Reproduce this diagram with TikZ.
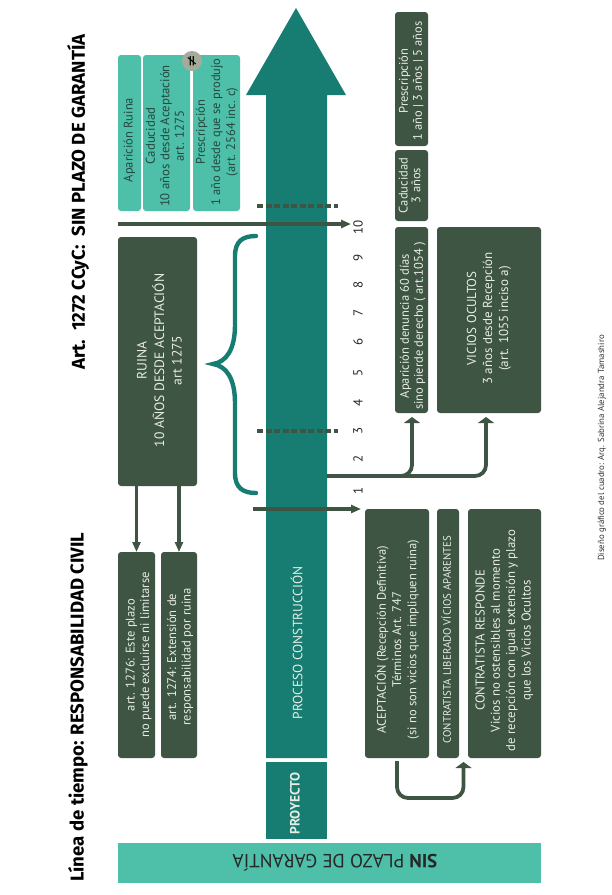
\documentclass[tikz,border=0pt]{standalone}
\usepackage{fontspec}
\setmainfont{PT Sans}
\newfontfamily\titlef{Fira Sans}
\newfontfamily\symf{DejaVu Sans}
\usetikzlibrary{arrows.meta,calc}
\definecolor{darkgr}{HTML}{3F5543}
\definecolor{tealdk}{HTML}{177C71}
\definecolor{teallt}{HTML}{4EBFA9}
\definecolor{paletxt}{HTML}{E6EDE4}
\definecolor{teallttxt}{HTML}{24483F}
\definecolor{neqgray}{HTML}{A5AB9B}
\newcommand{\rbox}[7]{%
  \pgfmathsetmacro\bx{(#2+#4)/2}%
  \pgfmathsetmacro\by{(#3+#5)/2}%
  \pgfmathsetmacro\bw{abs(#5-#3)}%
  \pgfmathsetmacro\bh{abs(#4-#2)}%
  \node[#6, minimum width=\bw pt, minimum height=\bh pt] (#1) at (\bx,\by) {#7};}
% tshift{up on page}{right on page}{lines}: moves the text block inside its turned box
\newcommand{\tshift}[3]{\hspace*{\dimexpr 2\dimexpr #1pt\relax\relax}\raisebox{\dimexpr -#2pt\relax}[\height][\depth]{\begin{tabular}{@{}c@{}}#3\end{tabular}}}
\newcommand{\fsz}[2]{\fontsize{#1}{#2}\selectfont}
\tikzset{
  base/.style={rotate=90, inner sep=0pt, outer sep=0pt, align=center, rounded corners=3pt,
    font=\fsz{12.5}{15.2}},
  darkbox/.style={base, fill=darkgr, text=paletxt},
  lightbox/.style={base, fill=teallt, text=teallttxt},
  shaftbox/.style={base, rounded corners=0pt, fill=tealdk, text=paletxt, font=\fsz{13.5}{16}\bfseries},
  titletext/.style={rotate=90, inner sep=0pt, font=\titlef\fsz{18.6}{22}\bfseries, text=black},
  num/.style={rotate=90, inner sep=0pt, font=\fsz{13}{14}, text=black!85},
  arr/.style={draw=darkgr, line width=3.8pt, -{Triangle[length=6pt,width=16pt]}, rounded corners=11pt},
  arrslim/.style={draw=darkgr, line width=3.8pt, -{Triangle[length=10pt,width=8pt]}},
  tick/.style={draw=darkgr, line width=3.8pt, dash pattern=on 6pt off 2.5pt},
  bracestyle/.style={draw=tealdk, line width=4.4pt, line cap=round},
}
\begin{document}
\begin{tikzpicture}[x=1pt,y=-1pt]
\useasboundingbox (0,0) rectangle (612,895);
\fill[white] (0,0) rectangle (612,895);

% titles
\node[titletext, anchor=west] (t1) at (78,882) {Línea de tiempo: RESPONSABILIDAD CIVIL};
\node[titletext, anchor=west] (t2) at (78,370) {Art.\ \ 1272 CCyC:\ \ SIN PLAZO DE GARANTÍA};

% main arrow
\fill[tealdk] (296,8) -- (346,95) -- (327,95) -- (327,758) -- (266,758) -- (266,95) -- (246,95) -- cycle;
\node[rotate=90, inner sep=0pt, text=paletxt, font=\fsz{13.4}{15}] (proceso) at (296.5,643) {PROCESO CONSTRUCCIÓN};
\rbox{proyecto}{266}{762}{327}{839}{shaftbox}{\tshift{-3}{0}{PROYECTO}}

% bottom bar
\fill[teallt] (118,843) rectangle (541,883);
\node[rotate=180, inner sep=0pt, text=black!85, font=\fsz{19}{20}] (bartext) at (335,863) {\textbf{SIN} PLAZO DE GARANTÍA};

% left top boxes
\rbox{apruina}{118}{55}{141}{211}{lightbox}{\tshift{-7}{0}{Aparición Ruina}}
\rbox{cadu}{143}{55}{190}{211}{lightbox, font=\fsz{12.8}{14.5}}{\tshift{-3}{0}{Caducidad\\10 años desde Aceptación\\art. 1275}}
\rbox{presc}{193}{55}{240}{211}{lightbox}{\tshift{1}{0.5}{Prescripción\\1 año desde que se produjo\\(art. 2564 inc. c)}}
\node[circle, fill=neqgray, text=black, inner sep=0pt, minimum size=20pt, rotate=90, font=\symf\fsz{15}{16}] (neq) at (192,61) {≠};

% ruina
\rbox{ruina}{118}{237}{197}{486}{darkbox, font=\fsz{13.6}{17.5}}{\tshift{1}{3}{RUINA\\10 AÑOS DESDE ACEPTACIÓN\\art 1275}}
\rbox{art76}{118}{552}{155}{758}{darkbox, font=\fsz{12.6}{14.5}}{\tshift{0}{2.5}{art. 1276: Este plazo\\no puede excluirse ni limitarse}}
\rbox{art74}{161}{552}{197}{758}{darkbox, font=\fsz{12.6}{14.5}}{\tshift{-2}{1.5}{art. 1274: Extensión de\\responsabilidad por ruina}}
\draw[arrslim] (art76.east |- ruina.west) -- (art76.east);
\draw[arrslim] (art74.east |- ruina.west) -- (art74.east);

% brace
\draw[bracestyle] (256,236) .. controls (243,236) and (235,241) .. (235,256) -- (235,325)
  .. controls (235,350) and (226,362) .. (213,364)
  .. controls (226,366) and (235,378) .. (235,403) -- (235,473)
  .. controls (235,488) and (243,493) .. (256,493);

% dashed ticks
\coordinate (d1a) at (257,206); \coordinate (d1b) at (338,206);
\coordinate (d2a) at (257,431); \coordinate (d2b) at (338,431);
\draw[tick] (d1a) -- (d1b);
\draw[tick] (d2a) -- (d2b);

% time arrows
\coordinate (a10s) at (118,224); \coordinate (a10e) at (351,224);
\coordinate (a1s) at (253,509); \coordinate (a1e) at (361,509);
\draw[arrslim] (a10s) -- (a10e);
\draw[arrslim] (a1s) -- (a1e);

% numbers
\node[num] (n1) at (358,491) {1};
\node[num] (n2) at (358,459) {2};
\node[num] (n3) at (358,431) {3};
\node[num] (n4) at (358,403) {4};
\node[num] (n5) at (358,373) {5};
\node[num] (n6) at (358,342) {6};
\node[num] (n7) at (358,313) {7};
\node[num] (n8) at (358,285) {8};
\node[num] (n9) at (358,258) {9};
\node[num] (n10) at (358,227) {10};

% right boxes
\rbox{prescr}{395}{12}{428}{146}{darkbox, font=\fsz{12.5}{14}}{\tshift{-2}{0.5}{Prescripción\\1 año | 3 años | 5 años}}
\rbox{cadr}{395}{150}{428}{221}{darkbox, font=\fsz{12.5}{12.5}}{\tshift{0}{0}{Caducidad\\3 años}}
\rbox{apden}{395}{227}{428}{413}{darkbox, font=\fsz{12.5}{14}}{\tshift{-6}{1.5}{Aparición denuncia 60 días\\sino pierde derecho ( art.1054 )}}
\rbox{vicios}{437}{227}{541}{413}{darkbox, font=\fsz{13}{16}}{\tshift{1.5}{0}{VICIOS OCULTOS\\3 años desde Recepción\\(art. 1055 inciso a)}}
\rbox{acep}{365}{509}{429}{758}{darkbox}{\tshift{-6}{1}{ACEPTACIÓN (Recepción Definitiva)\\Términos Art. 747\\(si no son vicios que impliquen ruina)}}
\rbox{lib}{437}{509}{459}{758}{darkbox, font=\fsz{10.8}{12}}{\tshift{-6}{0}{CONTRATISTA LIBERADO VÍCIOS APARENTES}}
\rbox{resp}{468}{509}{541}{758}{darkbox, font=\fsz{12.8}{15.3}}{\tshift{-7}{0}{CONTRATISTA RESPONDE\\Vicios no ostensibles al momento\\de recepción con igual extensión y plazo\\que los Vicios Ocultos}}

% connectors right
\coordinate (shaftout) at (327,476);
\coordinate (c1) at (412,476);
\coordinate (c2) at (486,476);
\coordinate (tipa) at (412,417);
\coordinate (tipb) at (486,417);
\draw[arr] (shaftout) -- (c1) -- (tipa);
\draw[arr] (shaftout) -- (c2) -- (tipb);
\coordinate (loopa) at (397,761);
\coordinate (loopb) at (397,798);
\coordinate (loopc) at (463.5,798);
\coordinate (loopd) at (463.5,762);
\draw[arr] (loopa) -- (loopb) -- (loopc) -- (loopd);

% credit
\node[rotate=90, inner sep=0pt, text=black!80, font=\fsz{8.8}{10}] (credit) at (602,448) {Diseño gráfico del cuadro: Arq. Sabrina Alejandra Tamashiro};
\end{tikzpicture}
\end{document}
